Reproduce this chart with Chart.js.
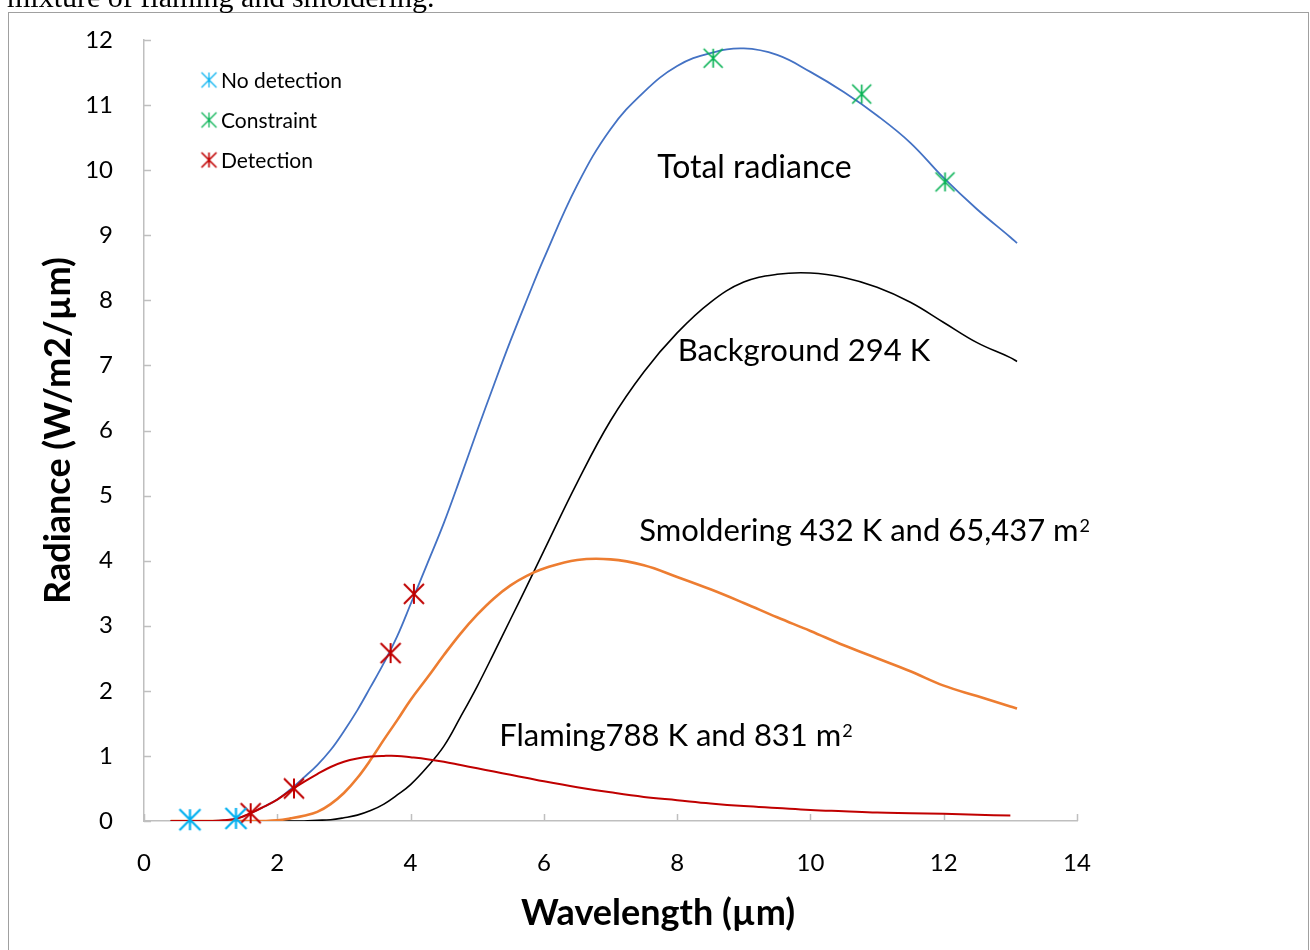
<!DOCTYPE html>
<html>
<head>
<meta charset="utf-8">
<script src="https://cdn.jsdelivr.net/npm/chart.js@4.4.1/dist/chart.umd.min.js"></script>
<style>
  html, body { margin: 0; padding: 0; background: #fff; overflow: hidden; }
  #wrap { position: relative; width: 1310px; height: 950px; }
  canvas { position: absolute; left: 0; top: 0; }
  #frame { position: absolute; left: 8px; top: 12px; width: 1301px; height: 1000px; border: 1px solid #a0a0a0; box-sizing: border-box; }
  #caption { position: absolute; left: 7px; top: -18px; font-family: "Liberation Serif", "Times New Roman", serif; font-size: 30px; line-height: 30px; color: #000; white-space: nowrap; }
</style>
</head>
<body>
<div id="wrap">
  <canvas id="chart" width="1310" height="950"></canvas>
  <div id="frame"></div>
  <div id="caption">mixture of flaming and smoldering.</div>
</div>
<script>
// Longueurs d'onde (µm) communes aux quatre courbes
const wavelength = [0.4, 0.6, 0.8, 1.0, 1.2, 1.4, 1.6, 1.8, 2.0, 2.2, 2.4, 2.6, 2.8, 3.0, 3.2, 3.4, 3.6, 3.8, 4.0, 4.25,
  4.5, 4.75, 5.0, 5.25, 5.5, 5.75, 6.0, 6.5, 7.0, 7.5, 8.0, 8.5, 9.0, 9.5, 10, 10.5, 11, 11.5, 12, 12.5, 13, 13.1];

const totalRadiance = [0, 0, 0, 0, 0.01, 0.04, 0.12, 0.22, 0.33, 0.49, 0.67, 0.86, 1.09, 1.38, 1.7, 2.06, 2.43, 2.84, 3.33, 3.95,
  4.58, 5.28, 6.0, 6.7, 7.38, 8.02, 8.64, 9.77, 10.63, 11.2, 11.6, 11.8, 11.87, 11.77, 11.51, 11.2, 10.84, 10.42, 9.88, 9.4, 8.97, 8.88];

const background = [0, 0, 0, 0, 0, 0, 0, 0, 0, 0, 0, 0.01, 0.02, 0.05, 0.09, 0.16, 0.26, 0.4, 0.56, 0.83,
  1.15, 1.6, 2.07, 2.58, 3.1, 3.62, 4.15, 5.2, 6.15, 6.9, 7.5, 7.97, 8.28, 8.4, 8.42, 8.35, 8.2, 7.97, 7.66, 7.35, 7.12, 7.06];

const smoldering = [0, 0, 0, 0, 0, 0, 0, 0, 0.01, 0.04, 0.08, 0.14, 0.26, 0.43, 0.66, 0.94, 1.25, 1.55, 1.86, 2.2,
  2.55, 2.88, 3.17, 3.42, 3.62, 3.77, 3.88, 4.01, 4.02, 3.93, 3.75, 3.56, 3.35, 3.13, 2.92, 2.7, 2.5, 2.3, 2.08, 1.92, 1.76, 1.73];

const flaming = [0, 0, 0, 0, 0.01, 0.04, 0.12, 0.22, 0.33, 0.47, 0.6, 0.72, 0.83, 0.91, 0.96, 0.99, 1.0, 1.0, 0.98, 0.95,
  0.91, 0.86, 0.81, 0.76, 0.71, 0.66, 0.61, 0.52, 0.44, 0.37, 0.32, 0.27, 0.23, 0.2, 0.17, 0.15, 0.13, 0.12, 0.11, 0.095, 0.085, null];

// Bandes du capteur
const noDetectionX = [0.69, 1.38];
const noDetectionY = [0.02, 0.04];
const constraintX = [8.54, 10.77, 12.02];
const constraintY = [11.72, 11.17, 9.82];
const detectionX = [1.6, 2.25, 3.7, 4.05];
const detectionY = [0.12, 0.5, 2.58, 3.49];

const xTicks = [0, 2, 4, 6, 8, 10, 12, 14];
const yTicks = [0, 1, 2, 3, 4, 5, 6, 7, 8, 9, 10, 11, 12];

const legendLabels = ['No detection', 'Constraint', 'Detection'];

const BLUE = '#4472C4', ORANGE = '#ED7D31', RED = '#C00000', CYAN = '#00B0F0', GREEN = '#00B050';
const FONT = 'Lato, "Open Sans", sans-serif';

function toPoints(xs, ys) {
  return xs.map((x, i) => ({ x: x, y: ys[i] })).filter(p => p.y !== null);
}

// Marqueur étoile (X + barre verticale) comme dans Excel
function starMarker(color, size, width) {
  const c = document.createElement('canvas');
  c.width = c.height = size + 4;
  const g = c.getContext('2d');
  const m = (size + 4) / 2, r = size / 2;
  g.strokeStyle = color;
  g.lineWidth = width;
  g.beginPath();
  g.moveTo(m, m - r); g.lineTo(m, m + r);
  g.moveTo(m - r, m - r); g.lineTo(m + r, m + r);
  g.moveTo(m + r, m - r); g.lineTo(m - r, m + r);
  g.stroke();
  return c;
}

function drawLabel(ctx, text, sup, px, py, size) {
  ctx.font = size + 'px ' + FONT;
  ctx.textAlign = 'left';
  ctx.textBaseline = 'alphabetic';
  ctx.fillText(text, px, py);
  if (sup) {
    const w = ctx.measureText(text).width;
    ctx.font = Math.round(size * 0.58) + 'px ' + FONT;
    ctx.fillText(sup, px + w + 1, py - size * 0.28);
  }
}

const decorations = {
  id: 'decorations',
  beforeDatasetsDraw(chart) {
    const { ctx, scales: { x, y } } = chart;
    ctx.save();
    ctx.strokeStyle = '#BFBFBF';
    ctx.lineWidth = 1.5;
    ctx.beginPath();
    yTicks.forEach(v => {
      const py = Math.round(y.getPixelForValue(v)) + 0.5;
      ctx.moveTo(x.left, py); ctx.lineTo(x.left + 7, py);
    });
    xTicks.forEach(v => {
      const px = Math.round(x.getPixelForValue(v)) + 0.5;
      ctx.moveTo(px, y.bottom); ctx.lineTo(px, y.bottom - 7);
    });
    ctx.stroke();
    ctx.restore();
  },
  afterDraw(chart) {
    const { ctx, chartArea, scales: { x, y } } = chart;
    ctx.save();
    ctx.fillStyle = '#000';

    // Étiquettes des courbes
    drawLabel(ctx, 'Total radiance', '', x.getPixelForValue(7.7), y.getPixelForValue(9.88), 32);
    drawLabel(ctx, 'Background 294 K', '', x.getPixelForValue(8.01), y.getPixelForValue(7.07), 31);
    drawLabel(ctx, 'Smoldering 432 K and 65,437 m', '2', x.getPixelForValue(7.43), y.getPixelForValue(4.3), 31);
    drawLabel(ctx, 'Flaming788 K and 831 m', '2', x.getPixelForValue(5.33), y.getPixelForValue(1.15), 31);

    // Légende
    const markers = [starMarker(CYAN, 15, 1.2), starMarker(GREEN, 15, 1.2), starMarker(RED, 15, 1.6)];
    ctx.font = '21px ' + FONT;
    ctx.textAlign = 'left';
    ctx.textBaseline = 'middle';
    legendLabels.forEach((lbl, i) => {
      const ly = chartArea.top + 40 + i * 40;
      const m = markers[i];
      ctx.drawImage(m, chartArea.left + 65 - m.width / 2, ly - m.height / 2);
      ctx.fillText(lbl, chartArea.left + 77, ly + 1);
    });

    // Titres des axes
    ctx.font = 'bold 36px ' + FONT;
    ctx.textAlign = 'center';
    ctx.textBaseline = 'alphabetic';
    ctx.fillText('Wavelength (µm)', 658, 925);
    ctx.textBaseline = 'middle';
    ctx.translate(58, (chartArea.top + chartArea.bottom) / 2);
    ctx.rotate(-Math.PI / 2);
    ctx.fillText('Radiance (W/m2/µm)', 0, 0);
    ctx.restore();
  }
};

function buildChart() {
  const tickFont = { family: FONT, size: 24 };
  const lineDefaults = { showLine: true, pointRadius: 0, tension: 0.4 };
  new Chart(document.getElementById('chart'), {
    type: 'scatter',
    data: {
      datasets: [
        { label: 'No detection', data: toPoints(noDetectionX, noDetectionY), showLine: false, clip: false,
          pointStyle: starMarker(CYAN, 21, 2.2), pointRadius: 5 },
        { label: 'Constraint', data: toPoints(constraintX, constraintY), showLine: false, clip: false,
          pointStyle: starMarker(GREEN, 19, 1.6), pointRadius: 5 },
        { label: 'Detection', data: toPoints(detectionX, detectionY), showLine: false, clip: false,
          pointStyle: starMarker(RED, 20, 2), pointRadius: 5 },
        Object.assign({ label: 'Flaming', data: toPoints(wavelength, flaming), borderColor: RED, borderWidth: 2 }, lineDefaults),
        Object.assign({ label: 'Smoldering', data: toPoints(wavelength, smoldering), borderColor: ORANGE, borderWidth: 2.6 }, lineDefaults),
        Object.assign({ label: 'Background', data: toPoints(wavelength, background), borderColor: '#000', borderWidth: 1.6 }, lineDefaults),
        Object.assign({ label: 'Total radiance', data: toPoints(wavelength, totalRadiance), borderColor: BLUE, borderWidth: 1.8 }, lineDefaults)
      ]
    },
    options: {
      responsive: false,
      animation: false,
      layout: { padding: { left: 0, top: 40, right: 233, bottom: 0 } },
      plugins: { legend: { display: false }, tooltip: { enabled: false } },
      scales: {
        x: {
          type: 'linear', min: 0, max: 14,
          ticks: { stepSize: 2, padding: 28, color: '#000', font: tickFont, maxRotation: 0 },
          grid: { display: true, drawOnChartArea: false, drawTicks: false },
          border: { color: '#BFBFBF', width: 1.5 },
          afterFit(scale) { scale.height = 129; }
        },
        y: {
          type: 'linear', min: 0, max: 12,
          // l'écart des libellés passe par une graduation invisible (ticks.padding gonfle la marge haute)
          ticks: { stepSize: 1, padding: 0, color: '#000', font: tickFont },
          grid: { display: true, drawOnChartArea: false, drawTicks: true, tickLength: 31, tickColor: 'rgba(0,0,0,0)' },
          border: { color: '#BFBFBF', width: 1.5 },
          afterFit(scale) { scale.width = 144; }
        }
      }
    },
    plugins: [decorations]
  });
}

document.fonts.load('24px Lato').then(buildChart, buildChart);
</script>
</body>
</html>
